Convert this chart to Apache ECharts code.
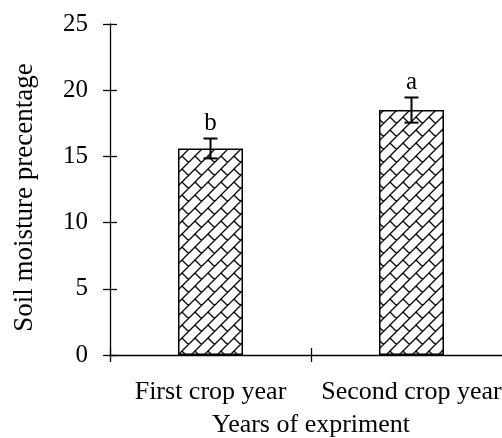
<!DOCTYPE html>
<html>
<head>
<meta charset="utf-8">
<script src="https://cdn.jsdelivr.net/npm/echarts@6/dist/echarts.min.js"></script>
<style>
  html, body { margin: 0; padding: 0; background: #fff; }
  #chart { width: 502px; height: 438px; }
</style>
</head>
<body>
<div id="chart"></div>
<script>
// Soil moisture by year of the experiment
const categories = ['First crop year', 'Second crop year'];
const moisture = [15.6, 18.5];
const moistureError = [0.75, 0.95];
const groupLetters = ['b', 'a'];
const yMin = 0, yMax = 25, yStep = 5;

const FONT = 'Liberation Serif';
const FS = 25;

// Brick-like diagonal hatch: continuous "/" lines joined by staggered "\" segments
function makeHatch() {
  const T = 13;
  const c = document.createElement('canvas');
  c.width = T; c.height = T;
  const g = c.getContext('2d');
  g.fillStyle = '#fff';
  g.fillRect(0, 0, T, T);
  g.strokeStyle = '#000';
  g.lineWidth = 1.3;
  g.beginPath();
  [0, T, 2 * T].forEach(k => {
    g.moveTo(k + 2, -2);
    g.lineTo(-2, k + 2);
  });
  for (let ox = -T; ox <= T; ox += T) {
    for (let oy = -T; oy <= T; oy += T) {
      g.moveTo(ox, oy);
      g.lineTo(ox + T / 2, oy + T / 2);
    }
  }
  g.stroke();
  return c;
}

const chart = echarts.init(document.getElementById('chart'), null, { renderer: 'canvas' });

const axisLine = { show: true, lineStyle: { color: '#000', width: 1.3 } };
const tickStyle = { color: '#000', width: 1.3 };

chart.setOption({
  animation: false,
  grid: { left: 110, width: 402, top: 24, bottom: 83, outerBoundsMode: 'none', containLabel: false },
  xAxis: [
    {
      type: 'category',
      data: categories,
      boundaryGap: true,
      axisLine: axisLine,
      axisTick: { show: true, inside: false, length: 7, lineStyle: tickStyle },
      axisLabel: { color: '#000', fontFamily: FONT, fontSize: 26, margin: 24, interval: 0, hideOverlap: false },
      name: 'Years of expriment',
      nameLocation: 'middle',
      nameGap: 57,
      nameTextStyle: { color: '#000', fontFamily: FONT, fontSize: 26 }
    },
    {
      type: 'category',
      data: categories,
      position: 'bottom',
      boundaryGap: true,
      axisLine: { show: false },
      axisTick: { show: true, inside: true, length: 7, lineStyle: tickStyle },
      axisLabel: { show: false }
    }
  ],
  yAxis: [
    {
      type: 'value',
      min: yMin, max: yMax, interval: yStep,
      axisLine: axisLine,
      splitLine: { show: false },
      axisTick: { show: true, inside: false, length: 7, lineStyle: tickStyle },
      axisLabel: { color: '#000', fontFamily: FONT, fontSize: FS, margin: 22 },
      name: 'Soil moisture precentage',
      nameLocation: 'middle',
      nameGap: 72,
      nameTextStyle: { color: '#000', fontFamily: FONT, fontSize: 27, padding: [0, 16, 0, 0] }
    },
    {
      type: 'value',
      min: yMin, max: yMax, interval: yStep,
      position: 'left',
      axisLine: { show: false },
      splitLine: { show: false },
      axisTick: { show: true, inside: true, length: 7, lineStyle: tickStyle },
      axisLabel: { show: false }
    }
  ],
  series: [
    {
      type: 'bar',
      data: moisture,
      barWidth: 65,
      itemStyle: {
        color: { image: makeHatch(), repeat: 'repeat' },
        borderColor: '#000',
        borderWidth: 1.5
      }
    },
    {
      type: 'custom',
      data: moisture.map((v, i) => [i, v, moistureError[i]]),
      z: 10,
      renderItem: function (params, api) {
        const i = api.value(0), v = api.value(1), e = api.value(2);
        const hi = api.coord([i, v + e]);
        const lo = api.coord([i, v - e]);
        const half = 7;
        const style = { stroke: '#000', lineWidth: 2 };
        return {
          type: 'group',
          children: [
            { type: 'line', shape: { x1: hi[0], y1: hi[1], x2: lo[0], y2: lo[1] }, style: style },
            { type: 'line', shape: { x1: hi[0] - half, y1: hi[1], x2: hi[0] + half, y2: hi[1] }, style: style },
            { type: 'line', shape: { x1: lo[0] - half, y1: lo[1], x2: lo[0] + half, y2: lo[1] }, style: style },
            {
              type: 'text',
              style: {
                text: groupLetters[i],
                x: hi[0], y: hi[1] - 3,
                textAlign: 'center', textVerticalAlign: 'bottom',
                fill: '#000', font: FS + 'px "' + FONT + '"'
              }
            }
          ]
        };
      }
    }
  ]
});
</script>
</body>
</html>
